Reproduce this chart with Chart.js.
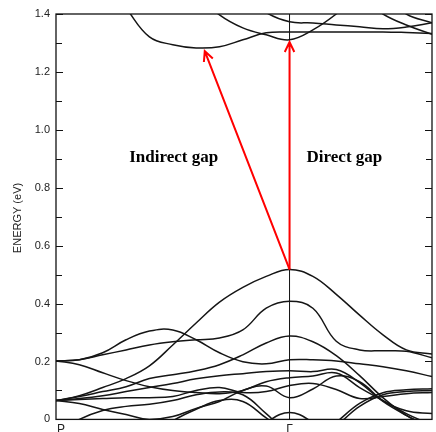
<!DOCTYPE html>
<html>
<head>
<meta charset="utf-8">
<script src="https://cdn.jsdelivr.net/npm/chart.js@4.4.0/dist/chart.umd.min.js"></script>
<style>
  html, body { margin: 0; padding: 0; background: #fff; }
  #wrap { width: 436px; height: 432px; }
</style>
</head>
<body>
<div id="wrap"><canvas id="bands"></canvas></div>
<script>
// k along P -> Gamma (Gamma = 1) and on past Gamma
const kGrid = [0, 0.1, 0.2, 0.3, 0.4, 0.5, 0.6, 0.7, 0.8, 0.9, 1.0, 1.1, 1.2, 1.3, 1.4, 1.5, 1.61];

// conduction bands (eV)
const cond1 = [null, null, 1.52, 1.42, 1.321, 1.294, 1.283, 1.287, 1.311, 1.335, 1.338, 1.338, 1.338, 1.338, 1.338, 1.336, 1.333];
const cond2 = [null, null, null, null, null, null, 1.47, 1.397, 1.352, 1.328, 1.311, 1.345, 1.40, 1.47, null, null, null];
const cond3 = [null, null, null, null, null, null, null, null, 1.47, 1.405, 1.373, 1.369, 1.362, 1.356, 1.349, 1.355, 1.37];
const cond4 = [null, null, null, null, null, null, null, null, null, null, null, null, null, 1.46, 1.40, 1.362, 1.33];
const cond5 = [null, null, null, null, null, null, null, null, null, null, null, null, null, null, 1.47, 1.40, 1.37];

// valence bands (eV)
const val1 = [0.065, 0.082, 0.110, 0.141, 0.185, 0.257, 0.333, 0.405, 0.456, 0.494, 0.518, 0.494, 0.432, 0.360, 0.292, 0.240, 0.226];
const val2 = [0.202, 0.206, 0.223, 0.240, 0.257, 0.268, 0.275, 0.281, 0.309, 0.384, 0.408, 0.384, 0.270, 0.240, 0.237, 0.235, 0.213];
const val3 = [0.202, 0.206, 0.230, 0.275, 0.305, 0.309, 0.275, 0.230, 0.199, 0.192, 0.206, 0.206, 0.202, 0.192, 0.182, 0.168, 0.148];
const val4 = [0.065, 0.079, 0.096, 0.113, 0.141, 0.154, 0.168, 0.189, 0.223, 0.264, 0.288, 0.268, 0.220, 0.151, 0.075, 0.014, -0.03];
const val5 = [0.202, 0.189, 0.161, 0.134, 0.113, 0.100, 0.093, 0.089, 0.100, 0.130, 0.144, 0.150, 0.160, 0.110, 0.065, 0.020, -0.02];
const val6 = [0.065, 0.072, 0.082, 0.096, 0.110, 0.124, 0.140, 0.151, 0.158, 0.165, 0.168, 0.165, 0.172, 0.127, 0.062, 0.014, -0.03];
const val7 = [0.065, 0.069, 0.072, 0.075, 0.075, 0.079, 0.100, 0.110, 0.093, 0.096, 0.117, 0.124, 0.103, 0.072, 0.079, 0.089, 0.093];
const val8 = [0.065, 0.055, 0.034, 0.017, 0.000, 0.010, 0.038, 0.062, 0.100, 0.115, 0.075, 0.105, 0.150, 0.130, 0.065, 0.030, 0.020];
const val9 = [null, null, null, null, null, null, null, null, -0.07, -0.01, 0.024, -0.01, -0.07, null, null, null, null];
const val10 = [null, null, null, null, -0.06, -0.005, 0.035, 0.065, 0.062, 0.005, -0.05, -0.06, -0.02, 0.045, 0.085, 0.096, 0.100];
const val11 = [-0.05, 0.0, 0.031, 0.045, 0.052, 0.065, 0.085, 0.095, 0.085, 0.02, -0.05, -0.07, -0.01, 0.055, 0.092, 0.102, 0.106];

const bands = [cond1, cond2, cond3, cond4, cond5,
  val1, val2, val3, val4, val5, val6, val7, val8, val9, val10, val11];

// gap arrows: [k, E]
const vbmTop = [1.0, 0.518];
const indirectTip = [0.637, 1.272];
const directTip = [1.0, 1.303];

const yTicks = [0, 0.2, 0.4, 0.6, 0.8, 1.0, 1.2, 1.4];
const kLabels = [[0, 'P'], [1.0, 'Γ']];
const notes = [[0.504, 0.889, 'Indirect gap'], [1.235, 0.889, 'Direct gap']];

function arrow(ctx, x0, y0, x1, y1) {
  const a = Math.atan2(y1 - y0, x1 - x0);
  const h = 11, w = 0.45;
  ctx.beginPath();
  ctx.moveTo(x0, y0);
  ctx.lineTo(x1, y1);
  ctx.moveTo(x1 - h * Math.cos(a - w), y1 - h * Math.sin(a - w));
  ctx.lineTo(x1, y1);
  ctx.lineTo(x1 - h * Math.cos(a + w), y1 - h * Math.sin(a + w));
  ctx.stroke();
}

const frame = {
  id: 'frame',
  beforeDatasetsDraw(chart) {
    const { ctx, chartArea: a, scales: { x, y } } = chart;
    ctx.save();
    ctx.strokeStyle = '#111';
    ctx.lineWidth = 1.3;
    ctx.strokeRect(a.left, a.top, a.right - a.left, a.bottom - a.top);
    // Gamma line
    const gx = x.getPixelForValue(1.0);
    ctx.lineWidth = 1;
    ctx.beginPath();
    ctx.moveTo(gx, a.top);
    ctx.lineTo(gx, a.bottom);
    ctx.stroke();
    // inward ticks on both sides
    ctx.lineWidth = 1.2;
    for (let i = 0; i <= 14; i++) {
      const py = Math.round(y.getPixelForValue(i / 10)) + 0.5;
      const len = i % 2 === 0 ? 7 : 6;
      ctx.beginPath();
      ctx.moveTo(a.left, py);
      ctx.lineTo(a.left + len, py);
      ctx.moveTo(a.right, py);
      ctx.lineTo(a.right - len, py);
      ctx.stroke();
    }
    ctx.restore();
  },
  afterDatasetsDraw(chart) {
    const { ctx, chartArea: a, scales: { x, y } } = chart;
    ctx.save();
    ctx.strokeStyle = '#ff0000';
    ctx.lineWidth = 2;
    const x0 = x.getPixelForValue(vbmTop[0]), y0 = y.getPixelForValue(vbmTop[1]);
    arrow(ctx, x0, y0, x.getPixelForValue(indirectTip[0]), y.getPixelForValue(indirectTip[1]));
    arrow(ctx, x0, y0, x.getPixelForValue(directTip[0]), y.getPixelForValue(directTip[1]));

    ctx.fillStyle = '#000';
    ctx.font = 'bold 17px "Liberation Serif", "Times New Roman", serif';
    ctx.textAlign = 'center';
    ctx.textBaseline = 'alphabetic';
    notes.forEach(([k, e, t]) => ctx.fillText(t, x.getPixelForValue(k), y.getPixelForValue(e)));

    ctx.fillStyle = '#222';
    ctx.font = '12px "Liberation Sans", Arial, sans-serif';
    ctx.textBaseline = 'top';
    kLabels.forEach(([k, t]) => ctx.fillText(t, x.getPixelForValue(k) + (k === 0 ? 5 : 0), a.bottom + 4));

    ctx.save();
    ctx.translate(18, 218);
    ctx.rotate(-Math.PI / 2);
    ctx.font = '11px "Liberation Sans", Arial, sans-serif';
    ctx.textBaseline = 'middle';
    ctx.fillStyle = '#222';
    ctx.fillText('ENERGY (eV)', 0, 0);
    ctx.restore();
    ctx.restore();
  }
};

new Chart(document.getElementById('bands'), {
  type: 'line',
  data: {
    datasets: bands.map(b => ({
      data: b.map((e, i) => ({ x: kGrid[i], y: e })),
      borderColor: '#151515',
      borderWidth: 1.5,
      pointRadius: 0,
      tension: 0.4,
      spanGaps: false
    }))
  },
  options: {
    responsive: true,
    maintainAspectRatio: false,
    animation: false,
    events: [],
    layout: { padding: { top: 14, right: 4, bottom: 10, left: 0 } },
    plugins: { legend: { display: false }, tooltip: { enabled: false } },
    scales: {
      x: { type: 'linear', min: 0, max: 1.61, display: false },
      y: {
        min: 0, max: 1.4,
        afterFit(scale) { scale.width = 56; },
        afterBuildTicks(scale) { scale.ticks = yTicks.map(v => ({ value: v })); },
        grid: { display: false, drawTicks: false },
        border: { display: false },
        ticks: {
          padding: 6,
          color: '#222',
          font: { family: '"Liberation Sans", Arial, sans-serif', size: 11 },
          callback: v => v === 0 ? '0' : v.toFixed(1)
        }
      }
    }
  },
  plugins: [frame]
});
</script>
</body>
</html>
